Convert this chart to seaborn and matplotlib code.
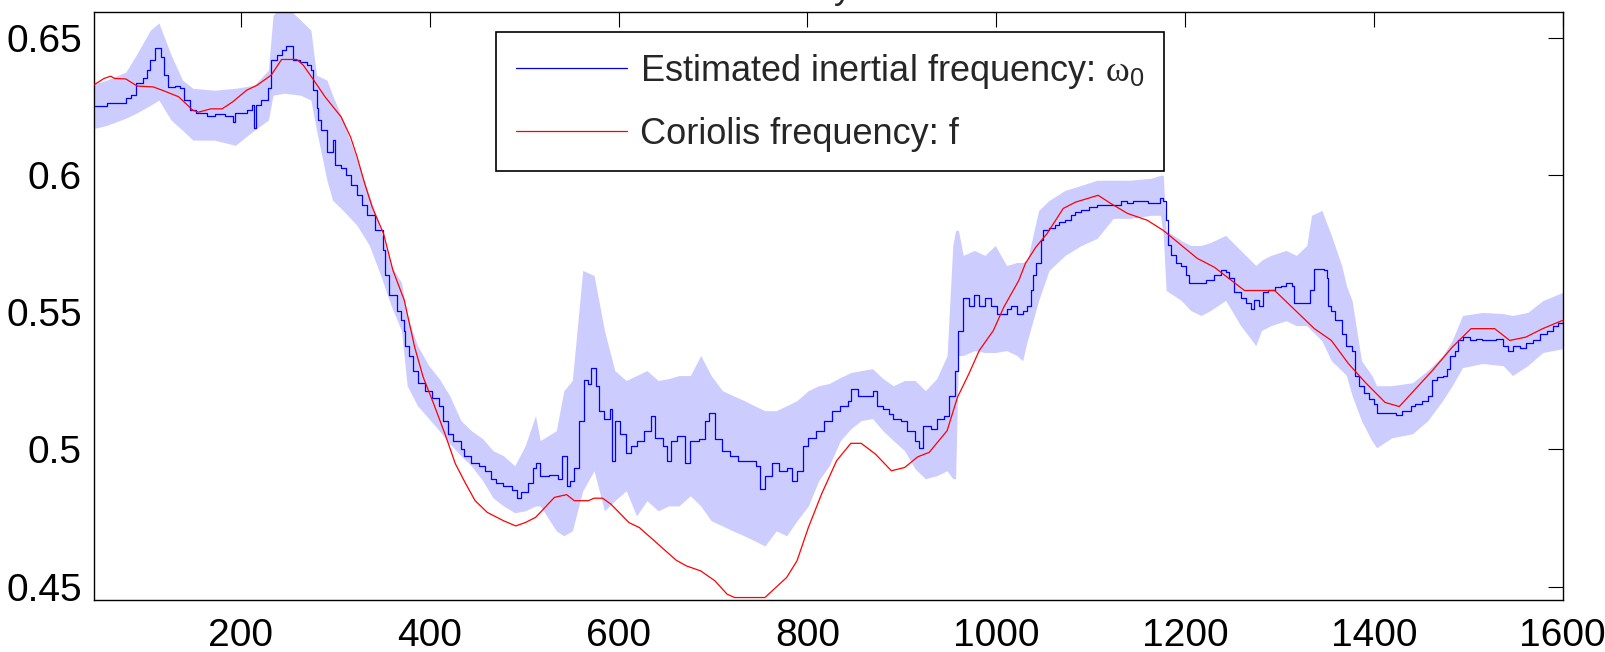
import numpy as np
import pandas as pd
import matplotlib
matplotlib.use("Agg")
import matplotlib.pyplot as plt
import seaborn as sns

# ---------------- data ----------------
red_x = [45, 55, 62, 66, 78, 90, 107, 118, 134, 149, 155, 168, 180, 191, 206, 217, 232, 243, 259, 266,
         277, 289, 306, 316, 323, 331, 339, 351, 361, 373, 384, 393, 404, 416, 427, 438, 448, 461, 478, 491,
         501, 512, 517, 532, 545, 553, 568, 574, 583, 592, 611, 622, 661, 672, 687, 702, 715, 723, 755, 778,
         789, 801, 815, 831, 846, 857, 872, 889, 903, 917, 929, 948, 959, 971, 982, 997, 1008, 1024, 1031,
         1042, 1054, 1071, 1084, 1108, 1121, 1139, 1160, 1177, 1213, 1231, 1263, 1295, 1337, 1355, 1373,
         1391, 1412, 1427, 1462, 1483, 1503, 1528, 1544, 1561, 1579, 1595, 1600]
red_f = [0.6330, 0.6352, 0.6360, 0.6352, 0.6350, 0.6324, 0.6321, 0.6307, 0.6285, 0.6236, 0.6229, 0.6241,
         0.6241, 0.6266, 0.6309, 0.6327, 0.6364, 0.6421, 0.6421, 0.6400, 0.6346, 0.6285, 0.6212, 0.6139,
         0.6066, 0.5969, 0.5883, 0.5786, 0.5652, 0.5543, 0.5372, 0.5263, 0.5167, 0.5057, 0.4948, 0.4875,
         0.4813, 0.4770, 0.4740, 0.4721, 0.4733, 0.4752, 0.4770, 0.4825, 0.4835, 0.4813, 0.4813, 0.4822,
         0.4822, 0.4800, 0.4733, 0.4715, 0.4596, 0.4575, 0.4557, 0.4521, 0.4472, 0.4460, 0.4460, 0.4533,
         0.4594, 0.4715, 0.4837, 0.4959, 0.5022, 0.5022, 0.4983, 0.4922, 0.4934, 0.4973, 0.4989, 0.5068,
         0.5190, 0.5275, 0.5360, 0.5433, 0.5518, 0.5616, 0.5678, 0.5737, 0.5787, 0.5878, 0.5901, 0.5926,
         0.5897, 0.5860, 0.5835, 0.5798, 0.5696, 0.5664, 0.5579, 0.5579, 0.5440, 0.5397, 0.5313, 0.5244,
         0.5171, 0.5156, 0.5287, 0.5372, 0.5440, 0.5440, 0.5397, 0.5409, 0.5440, 0.5463, 0.5470]

blue_x = [45, 58, 78, 84, 89, 96, 100, 104, 109, 115, 118, 123, 130, 135, 140, 146, 152, 164, 172, 183,
          191, 194, 206, 212, 214, 216, 221, 229, 232, 238, 243, 248, 255, 263, 270, 274, 276, 280, 282, 285,
          291, 297, 300, 306, 311, 316, 323, 328, 334, 342, 350, 353, 357, 365, 370, 373, 374, 378, 382, 387,
          395, 402, 410, 414, 419, 425, 433, 436, 444, 452, 459, 465, 470, 478, 487, 492, 497, 504, 509, 512,
          517, 526, 536, 540, 545, 549, 553, 558, 561, 563, 568, 571, 576, 579, 585, 591, 593, 596, 602, 608,
          613, 619, 627, 634, 639, 647, 651, 656, 662, 670, 676, 685, 691, 696, 702, 710, 718, 727, 738, 746,
          750, 755, 763, 770, 778, 784, 789, 795, 801, 809, 818, 826, 835, 843, 846, 854, 863, 869, 874, 880,
          886, 891, 899, 906, 914, 918, 922, 931, 937, 945, 950, 956, 960, 965, 971, 977, 982, 988, 994, 1001,
          1011, 1016, 1022, 1028, 1033, 1037, 1039, 1042, 1047, 1050, 1056, 1062, 1067, 1073, 1079, 1084,
          1090, 1098, 1107, 1124, 1132, 1139, 1145, 1153, 1161, 1169, 1174, 1177, 1180, 1182, 1185, 1190,
          1196, 1201, 1204, 1211, 1222, 1231, 1238, 1243, 1247, 1252, 1259, 1265, 1270, 1273, 1278, 1283,
          1288, 1295, 1302, 1307, 1313, 1315, 1318, 1323, 1329, 1332, 1337, 1343, 1347, 1350, 1352, 1355,
          1359, 1366, 1371, 1377, 1380, 1384, 1390, 1395, 1400, 1403, 1414, 1423, 1430, 1439, 1444, 1451,
          1457, 1462, 1467, 1473, 1478, 1481, 1486, 1489, 1494, 1502, 1508, 1515, 1523, 1529, 1537, 1542,
          1547, 1555, 1561, 1569, 1576, 1583, 1590, 1595, 1600]
blue_w = [0.6251, 0.6262, 0.6280, 0.6291, 0.6335, 0.6353, 0.6382, 0.6419, 0.6462, 0.6430, 0.6364, 0.6320,
          0.6324, 0.6316, 0.6273, 0.6236, 0.6225, 0.6214, 0.6221, 0.6214, 0.6192, 0.6225, 0.6236, 0.6254,
          0.6170, 0.6254, 0.6273, 0.6316, 0.6419, 0.6437, 0.6455, 0.6470, 0.6419, 0.6411, 0.6400, 0.6382,
          0.6309, 0.6243, 0.6200, 0.6163, 0.6083, 0.6127, 0.6035, 0.6024, 0.5999, 0.5962, 0.5926, 0.5889,
          0.5853, 0.5798, 0.5725, 0.5634, 0.5561, 0.5506, 0.5470, 0.5433, 0.5378, 0.5342, 0.5287, 0.5243,
          0.5214, 0.5189, 0.5159, 0.5105, 0.5057, 0.5032, 0.5002, 0.4977, 0.4951, 0.4940, 0.4922, 0.4893,
          0.4878, 0.4867, 0.4853, 0.4824, 0.4846, 0.4878, 0.4933, 0.4951, 0.4904, 0.4908, 0.4893, 0.4977,
          0.4867, 0.4886, 0.4933, 0.5105, 0.5105, 0.5251, 0.5240, 0.5298, 0.5232, 0.5141, 0.5112, 0.5148,
          0.4959, 0.5105, 0.5057, 0.4988, 0.5013, 0.5032, 0.5068, 0.5123, 0.5043, 0.5013, 0.4959, 0.5032,
          0.5050, 0.4951, 0.5032, 0.5039, 0.5105, 0.5134, 0.5039, 0.4995, 0.4977, 0.4959, 0.4959, 0.4940,
          0.4856, 0.4904, 0.4951, 0.4922, 0.4933, 0.4886, 0.4922, 0.5013, 0.5043, 0.5068, 0.5105, 0.5141,
          0.5159, 0.5178, 0.5221, 0.5196, 0.5196, 0.5214, 0.5159, 0.5148, 0.5130, 0.5112, 0.5105, 0.5068,
          0.5032, 0.5006, 0.5086, 0.5075, 0.5112, 0.5123, 0.5196, 0.5287, 0.5433, 0.5553, 0.5524, 0.5561,
          0.5524, 0.5553, 0.5524, 0.5495, 0.5513, 0.5524, 0.5495, 0.5506, 0.5524, 0.5579, 0.5634, 0.5681,
          0.5762, 0.5798, 0.5805, 0.5816, 0.5827, 0.5835, 0.5853, 0.5864, 0.5871, 0.5882, 0.5889, 0.5889,
          0.5907, 0.5897, 0.5907, 0.5907, 0.5897, 0.5897, 0.5915, 0.5907, 0.5835, 0.5743, 0.5707, 0.5681,
          0.5670, 0.5634, 0.5605, 0.5605, 0.5616, 0.5634, 0.5652, 0.5645, 0.5623, 0.5572, 0.5550, 0.5532,
          0.5513, 0.5543, 0.5524, 0.5572, 0.5579, 0.5590, 0.5597, 0.5605, 0.5597, 0.5532, 0.5532, 0.5532,
          0.5535, 0.5579, 0.5659, 0.5659, 0.5652, 0.5623, 0.5524, 0.5506, 0.5470, 0.5422, 0.5378, 0.5360,
          0.5269, 0.5232, 0.5207, 0.5185, 0.5167, 0.5134, 0.5134, 0.5126, 0.5141, 0.5159, 0.5167, 0.5178,
          0.5196, 0.5251, 0.5262, 0.5269, 0.5294, 0.5342, 0.5360, 0.5397, 0.5408, 0.5397, 0.5404, 0.5397,
          0.5397, 0.5404, 0.5378, 0.5360, 0.5378, 0.5371, 0.5386, 0.5397, 0.5422, 0.5433, 0.5451, 0.5462,
          0.5470]

band_x = [45, 58, 78, 89, 104, 113, 126, 138, 149, 172, 194, 214, 229, 234, 246, 263, 274, 280, 291, 297,
          308, 323, 336, 348, 359, 370, 376, 387, 399, 410, 421, 433, 444, 456, 467, 478, 490, 501, 512, 517,
          534, 542, 551, 562, 574, 585, 596, 608, 619, 630, 642, 653, 664, 676, 687, 698, 710, 721, 733, 744,
          755, 767, 778, 789, 801, 812, 823, 835, 846, 857, 869, 880, 891, 903, 914, 925, 937, 948, 954, 957,
          960, 965, 977, 988, 999, 1011, 1022, 1028, 1033, 1045, 1056, 1073, 1090, 1107, 1124, 1142, 1164,
          1174, 1177, 1180, 1196, 1206, 1217, 1227, 1243, 1259, 1275, 1281, 1291, 1307, 1318, 1329, 1334,
          1345, 1355, 1366, 1371, 1377, 1387, 1398, 1403, 1419, 1441, 1457, 1473, 1483, 1494, 1515, 1537,
          1547, 1563, 1579, 1600]
band_lo = [0.6170, 0.6181, 0.6207, 0.6225, 0.6254, 0.6273, 0.6200, 0.6163, 0.6127, 0.6127, 0.6108, 0.6163,
           0.6200, 0.6291, 0.6298, 0.6291, 0.6273, 0.6163, 0.5981, 0.5908, 0.5871, 0.5816, 0.5743, 0.5634,
           0.5524, 0.5433, 0.5232, 0.5159, 0.5112, 0.5068, 0.5021, 0.4977, 0.4940, 0.4886, 0.4823, 0.4794,
           0.4769, 0.4776, 0.4794, 0.4794, 0.4703, 0.4685, 0.4703, 0.4849, 0.4922, 0.4776, 0.4813, 0.4849,
           0.4758, 0.4813, 0.4776, 0.4794, 0.4794, 0.4831, 0.4794, 0.4740, 0.4721, 0.4703, 0.4685, 0.4667,
           0.4648, 0.4703, 0.4685, 0.4740, 0.4794, 0.4886, 0.4940, 0.5032, 0.5075, 0.5105, 0.5112, 0.5068,
           0.5032, 0.4995, 0.4929, 0.4893, 0.4904, 0.4922, 0.4893, 0.4893, 0.5342, 0.5342, 0.5360, 0.5353,
           0.5353, 0.5360, 0.5342, 0.5323, 0.5396, 0.5543, 0.5652, 0.5707, 0.5743, 0.5769, 0.5842, 0.5842,
           0.5853, 0.5853, 0.5780, 0.5579, 0.5543, 0.5506, 0.5488, 0.5506, 0.5543, 0.5451, 0.5378, 0.5433,
           0.5451, 0.5469, 0.5451, 0.5451, 0.5433, 0.5396, 0.5323, 0.5287, 0.5269, 0.5196, 0.5104, 0.5031,
           0.5006, 0.5042, 0.5057, 0.5104, 0.5178, 0.5232, 0.5298, 0.5313, 0.5305, 0.5269, 0.5305, 0.5353,
           0.5367]
band_hi = [0.6331, 0.6346, 0.6375, 0.6437, 0.6528, 0.6554, 0.6437, 0.6346, 0.6316, 0.6309, 0.6316, 0.6327,
           0.6382, 0.6583, 0.6620, 0.6565, 0.6528, 0.6364, 0.6346, 0.6291, 0.6200, 0.6054, 0.5926, 0.5798,
           0.5670, 0.5608, 0.5488, 0.5378, 0.5305, 0.5258, 0.5196, 0.5105, 0.5068, 0.5039, 0.4995, 0.4977,
           0.4940, 0.5013, 0.5123, 0.5032, 0.5068, 0.5214, 0.5251, 0.5652, 0.5634, 0.5433, 0.5287, 0.5251,
           0.5269, 0.5287, 0.5251, 0.5258, 0.5269, 0.5269, 0.5342, 0.5269, 0.5214, 0.5196, 0.5178, 0.5159,
           0.5141, 0.5141, 0.5159, 0.5178, 0.5214, 0.5232, 0.5240, 0.5262, 0.5280, 0.5287, 0.5294, 0.5258,
           0.5232, 0.5251, 0.5251, 0.5214, 0.5258, 0.5342, 0.5743, 0.5798, 0.5798, 0.5707, 0.5725, 0.5707,
           0.5743, 0.5670, 0.5681, 0.5681, 0.5689, 0.5871, 0.5907, 0.5944, 0.5962, 0.5981, 0.5981, 0.5981,
           0.5988, 0.5999, 0.5999, 0.5798, 0.5761, 0.5743, 0.5743, 0.5754, 0.5780, 0.5725, 0.5670, 0.5689,
           0.5707, 0.5725, 0.5707, 0.5743, 0.5853, 0.5871, 0.5780, 0.5670, 0.5597, 0.5542, 0.5323, 0.5269,
           0.5232, 0.5232, 0.5243, 0.5287, 0.5342, 0.5397, 0.5488, 0.5499, 0.5495, 0.5488, 0.5499, 0.5542,
           0.5572]

x_ticks = [200, 400, 600, 800, 1000, 1200, 1400, 1600]
y_ticks = [0.45, 0.5, 0.55, 0.6, 0.65]
label_est = r"Estimated inertial frequency: $\omega_0$"
label_cor = "Coriolis frequency: f"

# ---------------- style ----------------
sns.set_style("white")
plt.rcParams["font.family"] = ["Liberation Sans", "DejaVu Sans"]
plt.rcParams["mathtext.fontset"] = "custom"
plt.rcParams["mathtext.rm"] = "Liberation Sans"
plt.rcParams["mathtext.it"] = "Liberation Serif"
plt.rcParams["mathtext.bf"] = "Liberation Sans:bold"

FS = 26
TFS = 28
fig = plt.figure(figsize=(16.06, 6.52), dpi=100)
ax = fig.add_axes([94.3 / 1606, 1 - 600 / 652, 1468.3 / 1606, 588 / 652])

blue_df = pd.DataFrame({"x": blue_x, "w": blue_w})
red_df = pd.DataFrame({"x": red_x, "f": red_f})

ax.fill_between(band_x, band_lo, band_hi, color="#ccccff", linewidth=0, zorder=1)
sns.lineplot(data=blue_df, x="x", y="w", ax=ax, color="#0000ff", linewidth=0.9,
             drawstyle="steps-post", estimator=None, sort=False, zorder=2)
sns.lineplot(data=red_df, x="x", y="f", ax=ax, color="#ff0000", linewidth=0.9,
             estimator=None, sort=False, zorder=3)

lines = ax.get_lines()
leg = ax.legend([lines[0], lines[1]], [label_est, label_cor], loc="upper left",
                bbox_to_anchor=((496.4 - 94.3) / 1468.3, 1 - (31.7 - 12) / 588),
                borderaxespad=0, fontsize=FS, frameon=True, fancybox=False,
                handlelength=3.07, handletextpad=0.35, labelspacing=0.72,
                borderpad=0.55)
leg.get_frame().set_edgecolor("black")
leg.get_frame().set_linewidth(1.2)
leg.get_frame().set_alpha(1)

ax.set_xlim(44.6, 1600)
ax.set_ylim(0.4451, 0.6594)
ax.set_xticks(x_ticks)
ax.set_yticks(y_ticks)
ax.set_xticklabels([f"{v:g}" for v in x_ticks])
ax.set_yticklabels([f"{v:g}" for v in y_ticks])
ax.set_xlabel("")
ax.set_ylabel("")
ax.tick_params(direction="in", length=11, width=0.8, top=True, right=True,
               labelsize=TFS, colors="black")
ax.tick_params(axis="x", pad=13)
ax.tick_params(axis="y", pad=9)
for s in ax.spines.values():
    s.set_visible(True)
    s.set_color("black")
    s.set_linewidth(1.0)

# fragment of the (cut-off) title visible at the top edge
fig.text(843 / 1606, 1 + 2 / 652, "y", ha="center", va="baseline", fontsize=FS)

fig.savefig("out.png", dpi=100)
